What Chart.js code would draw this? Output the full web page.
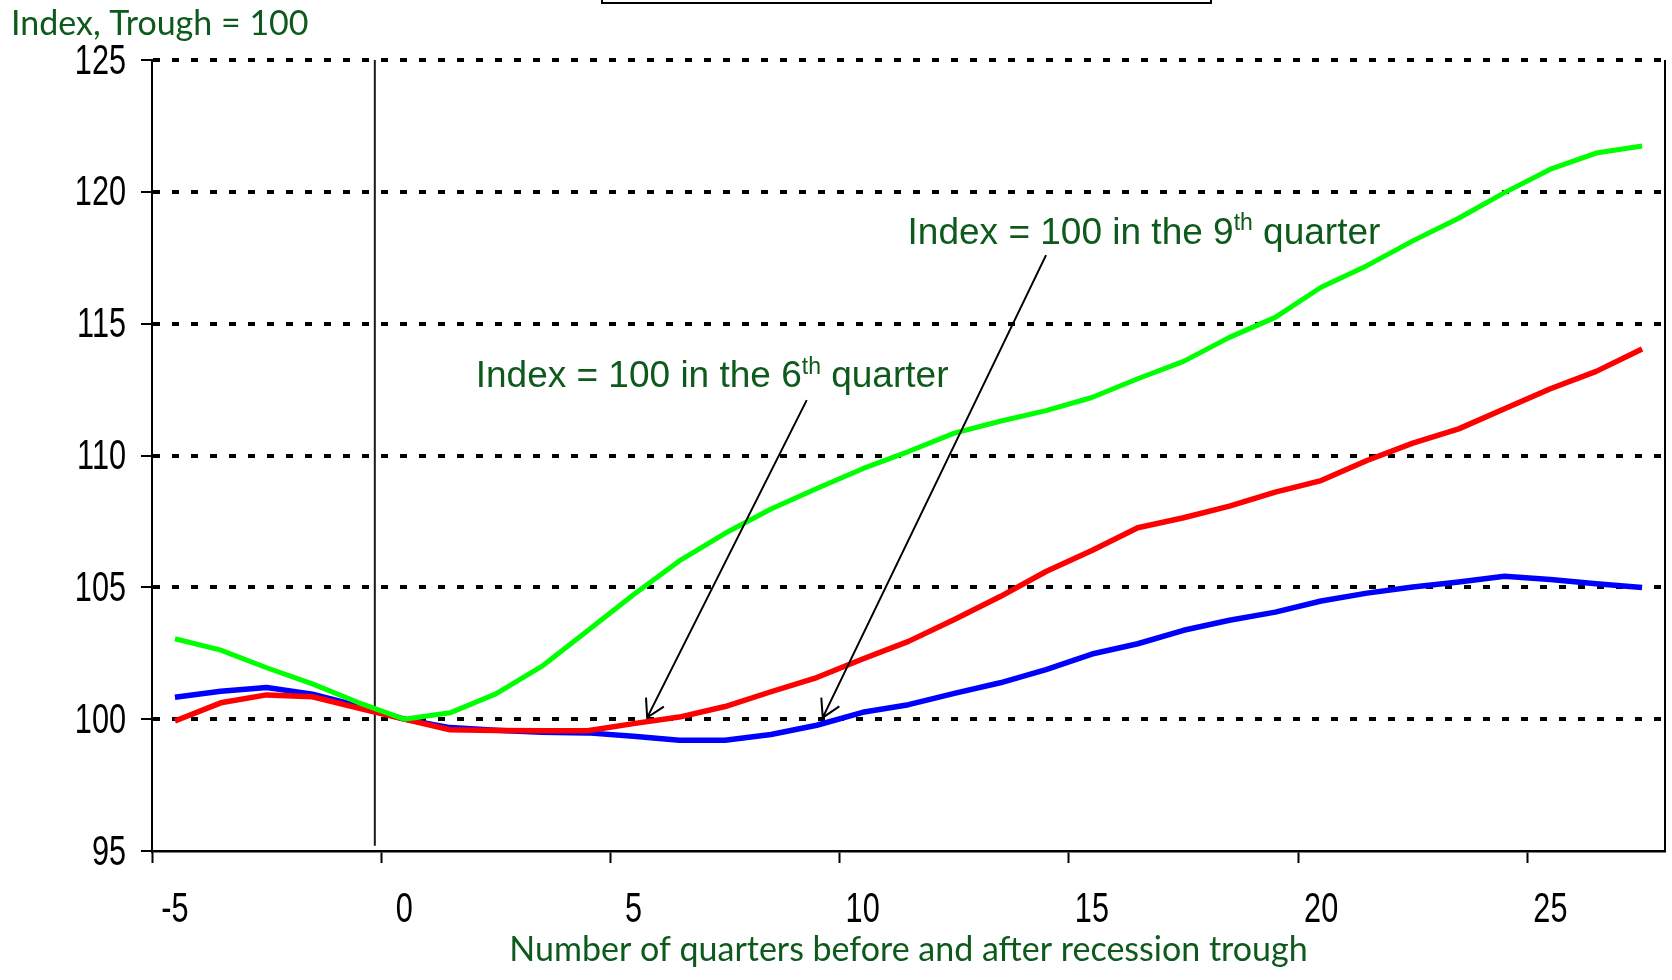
<!DOCTYPE html>
<html>
<head>
<meta charset="utf-8">
<title>Index, Trough = 100</title>
<script src="https://cdn.jsdelivr.net/npm/chart.js@4.4.0/dist/chart.umd.min.js"></script>
<style>
  html, body { margin: 0; padding: 0; background: #fff; }
  #wrap { position: relative; width: 1672px; height: 980px; }
</style>
</head>
<body>
<div id="wrap"><canvas id="recoveryChart"></canvas></div>
<script>
// Number of quarters before and after the recession trough (category axis)
const quarters = [-5, -4, -3, -2, -1, 0, 1, 2, 3, 4, 5, 6, 7, 8, 9, 10, 11, 12, 13, 14, 15,
                  16, 17, 18, 19, 20, 21, 22, 23, 24, 25, 26, 27];

// Index, trough = 100
const greenSeries = [103.05, 102.62, 101.95, 101.34, 100.63, 100.0, 100.24, 100.96, 102.0, 103.35, 104.72,
                     106.0, 107.05, 107.97, 108.75, 109.5, 110.15, 110.85, 111.3, 111.7, 112.2,
                     112.91, 113.57, 114.48, 115.24, 116.38, 117.2, 118.14, 119.0, 119.97, 120.86, 121.47, 121.74];
const redSeries = [99.93, 100.62, 100.92, 100.85, 100.42, 100.0, 99.6, 99.57, 99.56, 99.56, 99.83,
                   100.08, 100.48, 101.04, 101.58, 102.28, 102.95, 103.78, 104.65, 105.6, 106.4,
                   107.26, 107.64, 108.08, 108.61, 109.05, 109.81, 110.47, 111.01, 111.77, 112.53, 113.19, 114.04];
const blueSeries = [100.83, 101.06, 101.2, 100.95, 100.5, 100.0, 99.68, 99.58, 99.5, 99.48, 99.35,
                    99.2, 99.2, 99.42, 99.77, 100.26, 100.55, 100.98, 101.38, 101.88, 102.47,
                    102.86, 103.37, 103.75, 104.06, 104.48, 104.78, 105.01, 105.2, 105.42, 105.3, 105.14, 104.99];

const yTicks = [95, 100, 105, 110, 115, 120, 125];
const xTickEvery = 5;

const GREEN_TEXT = '#0e5a1c';
const TICK_FONT = "42px 'Liberation Sans', Arial, sans-serif";

// Annotation callouts: text anchored in data units, arrow from (q, value) to tip (q, value)
const callouts = [
  { q: 1.56, v: 112.58, pre: 'Index = 100 in the 6', sup: 'th', post: ' quarter', from: [8.78, 112.1], to: [5.3, 100.06] },
  { q: 10.98, v: 118.03, pre: 'Index = 100 in the 9', sup: 'th', post: ' quarter', from: [14.0, 117.6], to: [9.13, 100.06] }
];
const troughMarker = { q: -0.64, top: 125, bottom: 95.2 };

function xPix(scale, q) {
  return scale.getPixelForValue(q - quarters[0]);
}

// tick labels in a condensed face (the original uses a narrow Arial)
function narrowText(ctx, text, x, y, align) {
  ctx.save();
  ctx.translate(x, y);
  ctx.scale(0.73, 1);
  ctx.textAlign = align;
  ctx.textBaseline = 'middle';
  ctx.fillText(text, 0, 0);
  ctx.restore();
}

const tickLabelPlugin = {
  id: 'narrowTicks',
  afterDraw(chart) {
    const { ctx, chartArea, scales: { x, y } } = chart;
    ctx.save();
    ctx.fillStyle = '#000';
    ctx.font = TICK_FONT;
    yTicks.forEach(v => narrowText(ctx, String(v), chartArea.left - 26, y.getPixelForValue(v) + 2, 'right'));
    quarters.forEach(q => {
      if (q % xTickEvery === 0) narrowText(ctx, String(q), xPix(x, q), chartArea.bottom + 59, 'center');
    });
    ctx.restore();
  }
};

const annotationPlugin = {
  id: 'annotations',
  beforeDatasetsDraw(chart) {
    const { ctx, scales: { x, y } } = chart;
    const vx = xPix(x, troughMarker.q);
    ctx.save();
    ctx.strokeStyle = '#1a1a1a';
    ctx.lineWidth = 2;
    ctx.beginPath();
    ctx.moveTo(vx, y.getPixelForValue(troughMarker.top));
    ctx.lineTo(vx, y.getPixelForValue(troughMarker.bottom));
    ctx.stroke();
    ctx.restore();
  },
  afterDatasetsDraw(chart) {
    const { ctx, chartArea, scales: { x, y } } = chart;
    ctx.save();

    // right frame of the plot
    ctx.strokeStyle = '#000';
    ctx.lineWidth = 2;
    ctx.beginPath();
    ctx.moveTo(chartArea.right, chartArea.top);
    ctx.lineTo(chartArea.right, chartArea.bottom);
    ctx.stroke();

    // cut-off box at the very top
    ctx.lineWidth = 2;
    ctx.strokeRect(602, -20, 609, 23);

    // arrows
    callouts.forEach(c => {
      const x1 = xPix(x, c.from[0]), y1 = y.getPixelForValue(c.from[1]);
      const x2 = xPix(x, c.to[0]), y2 = y.getPixelForValue(c.to[1]);
      ctx.strokeStyle = '#000';
      ctx.lineWidth = 2;
      ctx.beginPath();
      ctx.moveTo(x1, y1);
      ctx.lineTo(x2, y2);
      const ang = Math.atan2(y1 - y2, x1 - x2);
      const len = 20, spread = Math.PI / 6;
      ctx.moveTo(x2 + len * Math.cos(ang - spread), y2 + len * Math.sin(ang - spread));
      ctx.lineTo(x2, y2);
      ctx.lineTo(x2 + len * Math.cos(ang + spread), y2 + len * Math.sin(ang + spread));
      ctx.stroke();
    });

    // callout texts with superscript
    ctx.fillStyle = GREEN_TEXT;
    ctx.textBaseline = 'alphabetic';
    ctx.textAlign = 'left';
    const size = 37;
    callouts.forEach(c => {
      let cx = xPix(x, c.q);
      const base = y.getPixelForValue(c.v);
      ctx.font = size + "px 'Liberation Sans', Arial, sans-serif";
      ctx.fillText(c.pre, cx, base);
      cx += ctx.measureText(c.pre).width;
      ctx.font = Math.round(size * 0.62) + "px 'Liberation Sans', Arial, sans-serif";
      ctx.fillText(c.sup, cx, base - size * 0.36);
      cx += ctx.measureText(c.sup).width;
      ctx.font = size + "px 'Liberation Sans', Arial, sans-serif";
      ctx.fillText(c.post, cx, base);
    });

    // y axis caption, horizontal at top left
    ctx.font = "34px Lato, 'Open Sans', sans-serif";
    ctx.fillText('Index, Trough = 100', 11, 35);
    ctx.restore();
  }
};

const ctx = document.getElementById('recoveryChart').getContext('2d');
const recoveryChart = new Chart(ctx, {
  type: 'line',
  data: {
    labels: quarters,
    datasets: [
      { label: 'Green', data: greenSeries, borderColor: '#00ff00', borderWidth: 5 },
      { label: 'Red', data: redSeries, borderColor: '#ff0000', borderWidth: 5.5 },
      { label: 'Blue', data: blueSeries, borderColor: '#0000ff', borderWidth: 5.5 }
    ]
  },
  options: {
    responsive: true,
    maintainAspectRatio: false,
    animation: false,
    devicePixelRatio: 1,
    layout: { padding: { top: 60, right: 7, left: 0, bottom: 0 } },
    elements: {
      line: { tension: 0, fill: false, borderJoinStyle: 'round', backgroundColor: 'transparent' },
      point: { radius: 0, hoverRadius: 0 }
    },
    plugins: {
      legend: { display: false },
      tooltip: { enabled: false },
      title: { display: false }
    },
    scales: {
      x: {
        type: 'category',
        offset: true,
        afterFit: (scale) => { scale.height = 129; },
        grid: {
          offset: true,
          drawOnChartArea: false,
          drawTicks: true,
          tickLength: 12,
          tickWidth: 2,
          tickColor: (c) => (c.index % xTickEvery === 0 ? '#000' : 'rgba(0,0,0,0)')
        },
        border: { display: true, color: '#000', width: 2.5 },
        ticks: { display: false, autoSkip: false, maxRotation: 0, minRotation: 0 },
        title: {
          display: true,
          text: 'Number of quarters before and after recession trough',
          color: GREEN_TEXT,
          font: { family: "Lato, 'Open Sans', sans-serif", size: 34 },
          padding: { top: 0, bottom: 10 }
        }
      },
      y: {
        min: yTicks[0],
        max: yTicks[yTicks.length - 1],
        afterFit: (scale) => { scale.width = 152; },
        afterBuildTicks: (scale) => { scale.ticks = yTicks.map(v => ({ value: v })); },
        grid: {
          color: (c) => (c.tick && c.tick.value === yTicks[0] ? 'rgba(0,0,0,0)' : '#000'),
          lineWidth: 4,
          drawTicks: true,
          tickLength: 11,
          tickWidth: 2,
          tickColor: '#000',
          tickBorderDash: []
        },
        border: { display: true, color: '#000', width: 2, dash: [7, 12] },
        ticks: { display: false }
      }
    }
  },
  plugins: [annotationPlugin, tickLabelPlugin]
});
</script>
</body>
</html>
